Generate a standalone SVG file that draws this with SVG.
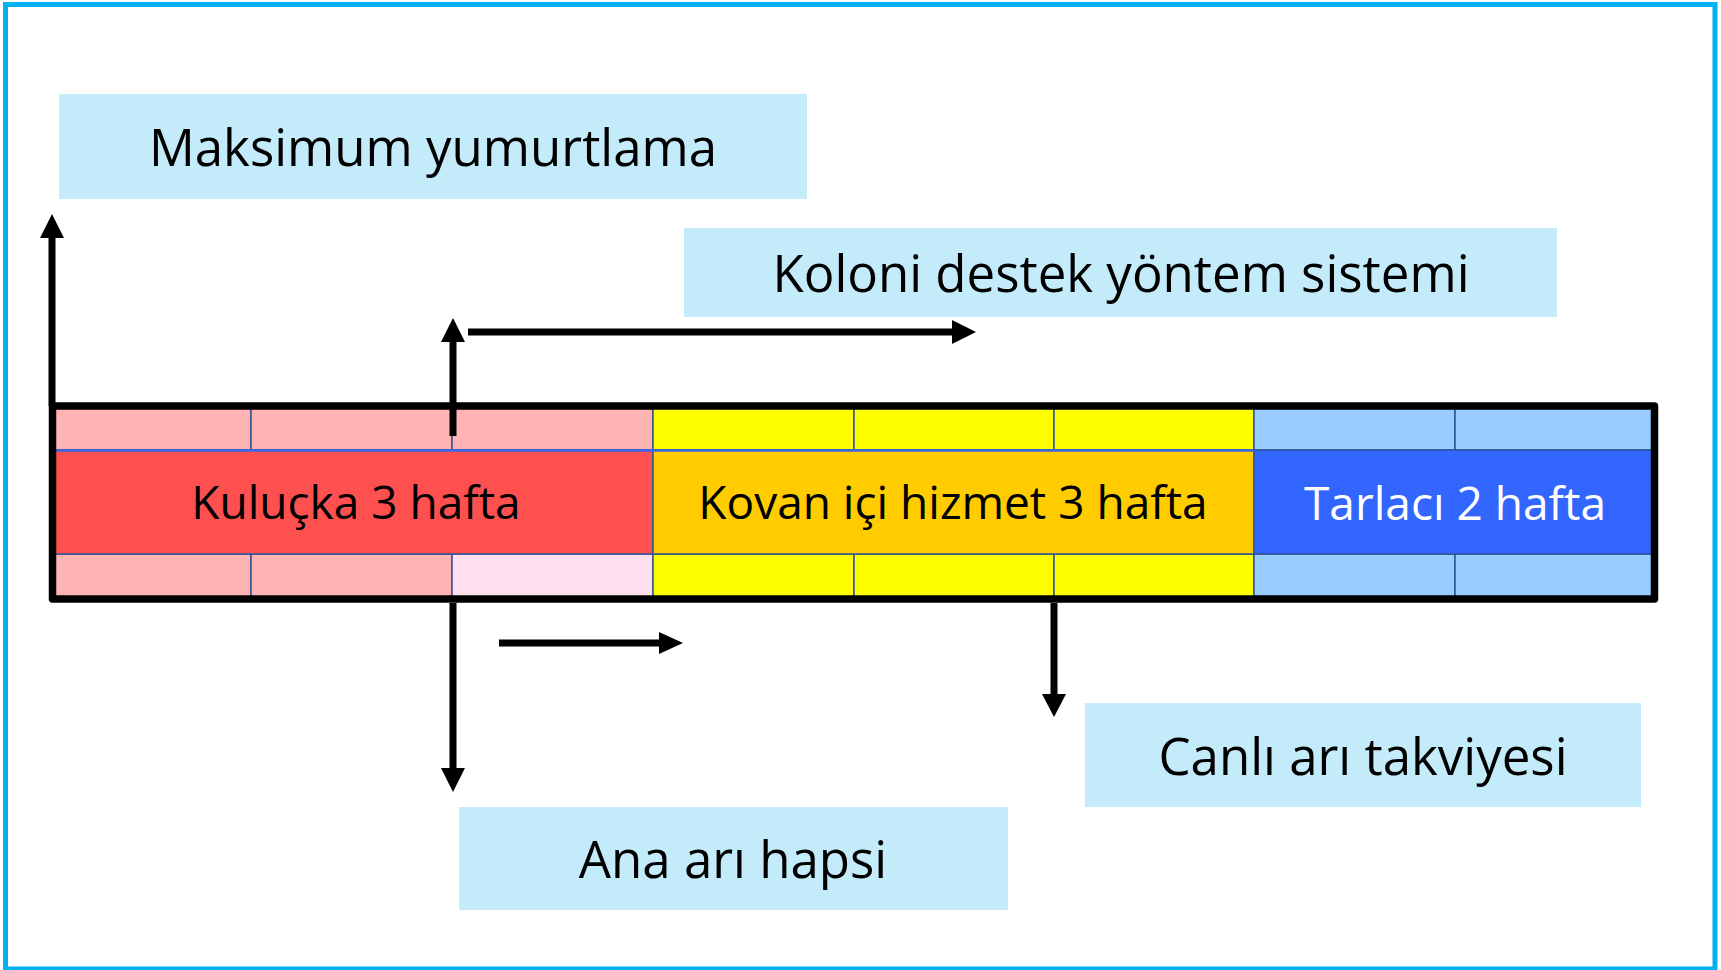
<svg xmlns="http://www.w3.org/2000/svg" width="1721" height="970" viewBox="0 0 1721 970">
  <style>
    .lbl { font-family: "Open Sans", "Noto Sans", "Liberation Sans", sans-serif; font-size: 51px; text-anchor: middle; fill: #000; }
    .bar { font-size: 46px; }
    .box { fill: #C3EBFA; stroke: none; }
    .cell { stroke: #2F5597; stroke-width: 1.5; }
    .shaft { stroke: #000; stroke-width: 7; fill: none; }
    .head { fill: #000; stroke: none; }
  </style>
  <rect x="0" y="0" width="1721" height="970" fill="#FFFFFF"/>
  <rect id="frame" x="5.5" y="4.5" width="1709.5" height="964.5" fill="none" stroke="#00B0F0" stroke-width="5"/>

  <g id="maksimum">
    <rect class="box" x="59" y="94" width="748" height="105"/>
    <text class="lbl" x="433" y="166">Maksimum yumurtlama</text>
  </g>
  <g id="koloni">
    <rect class="box" x="684" y="228" width="873" height="89"/>
    <text class="lbl" x="1121" y="292">Koloni destek yöntem sistemi</text>
  </g>
  <g id="canli">
    <rect class="box" x="1085" y="703" width="556" height="104"/>
    <text class="lbl" x="1363" y="775">Canlı arı takviyesi</text>
  </g>
  <g id="ana">
    <rect class="box" x="459" y="807" width="549" height="103"/>
    <text class="lbl" x="733" y="878">Ana arı hapsi</text>
  </g>

  <g id="timeline">
    <!-- top row -->
    <rect class="cell" x="52" y="406" width="199" height="44" fill="#FFB3B3"/>
    <rect class="cell" x="251" y="406" width="201" height="44" fill="#FFB3B3"/>
    <rect class="cell" x="452" y="406" width="201" height="44" fill="#FFB3B3"/>
    <rect class="cell" x="653" y="406" width="201" height="44" fill="#FFFF00"/>
    <rect class="cell" x="854" y="406" width="200" height="44" fill="#FFFF00"/>
    <rect class="cell" x="1054" y="406" width="200" height="44" fill="#FFFF00"/>
    <rect class="cell" x="1254" y="406" width="201" height="44" fill="#99CCFF"/>
    <rect class="cell" x="1455" y="406" width="200" height="44" fill="#99CCFF"/>
    <!-- bottom row -->
    <rect class="cell" x="52" y="554" width="199" height="45" fill="#FFB3B3"/>
    <rect class="cell" x="251" y="554" width="201" height="45" fill="#FFB3B3"/>
    <rect class="cell" x="452" y="554" width="201" height="45" fill="#FFE0EE"/>
    <rect class="cell" x="653" y="554" width="201" height="45" fill="#FFFF00"/>
    <rect class="cell" x="854" y="554" width="200" height="45" fill="#FFFF00"/>
    <rect class="cell" x="1054" y="554" width="200" height="45" fill="#FFFF00"/>
    <rect class="cell" x="1254" y="554" width="201" height="45" fill="#99CCFF"/>
    <rect class="cell" x="1455" y="554" width="200" height="45" fill="#99CCFF"/>
    <!-- middle row -->
    <rect x="52" y="450" width="601" height="104" fill="#FF5050" stroke="#2F5597" stroke-width="1.5"/>
    <rect x="653" y="450" width="601" height="104" fill="#FFCC00" stroke="#2F5597" stroke-width="1.5"/>
    <rect x="1254" y="450" width="401" height="104" fill="#3366FF" stroke="#2F5597" stroke-width="1.5"/>
    <line x1="52" y1="450.5" x2="1254" y2="450.5" stroke="#3A66E8" stroke-width="2.5"/>
    <text class="lbl bar" x="356" y="519">Kuluçka 3 hafta</text>
    <text class="lbl bar" x="953" y="519">Kovan içi hizmet 3 hafta</text>
    <text class="lbl bar" x="1455" y="520" style="fill:#FFFFFF">Tarlacı 2 hafta</text>
    <!-- frame -->
    <rect x="52.5" y="406" width="1602" height="193" fill="none" stroke="#000" stroke-width="7.5" stroke-linejoin="round"/>
  </g>

  <g id="connectors">
    <line class="shaft" x1="52" y1="406" x2="52" y2="236"/>
    <polygon class="head" points="52,214 40,238 64,238"/>

    <line class="shaft" x1="453" y1="436" x2="453" y2="340"/>
    <polygon class="head" points="453,318 441,342 465,342"/>

    <line class="shaft" x1="468" y1="332" x2="954" y2="332"/>
    <polygon class="head" points="976,332 952,320 952,344"/>

    <line class="shaft" x1="453" y1="603" x2="453" y2="770"/>
    <polygon class="head" points="453,792 441,768 465,768"/>

    <line class="shaft" x1="499" y1="643" x2="661" y2="643"/>
    <polygon class="head" points="683,643 659,632 659,654"/>

    <line class="shaft" x1="1054" y1="603" x2="1054" y2="696"/>
    <polygon class="head" points="1054,717 1042,694 1066,694"/>
  </g>
</svg>
